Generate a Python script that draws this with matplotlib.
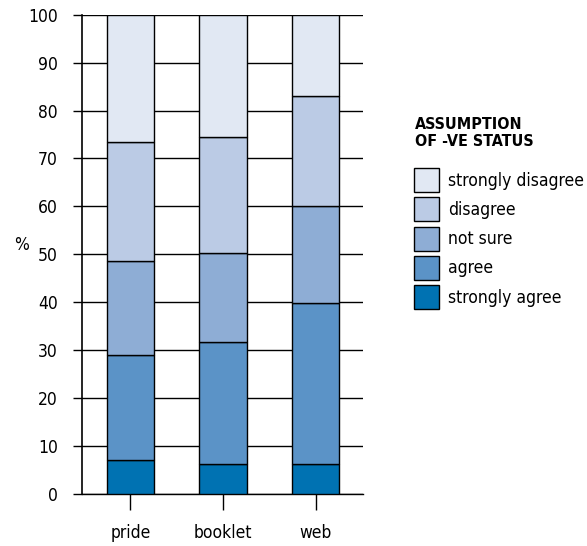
import numpy as np
import matplotlib
matplotlib.use('Agg')
import matplotlib.pyplot as plt

plt.rcParams['font.family'] = ['DejaVu Sans']
plt.rcParams['font.stretch'] = 'condensed'

# categories and stacked percentages (bottom to top)
categories = ['pride', 'booklet', 'web']
levels = ['strongly agree', 'agree', 'not sure', 'disagree', 'strongly disagree']
strongly_agree = [7.0, 6.2, 6.2]
agree = [22.1, 25.6, 33.6]
not_sure = [19.5, 18.5, 20.3]
disagree = [24.8, 24.1, 23.0]
strongly_disagree = [26.6, 25.6, 16.9]
series = [strongly_agree, agree, not_sure, disagree, strongly_disagree]
colors = ['#0072b2', '#5b93c7', '#8eadd5', '#bbcbe5', '#e1e8f3']

fig = plt.figure(figsize=(5.87, 5.46), dpi=100)
ax = fig.add_axes([0.1397, 0.0952, 0.4783, 0.878])

x = np.arange(len(categories))
bottom = np.zeros(len(categories))
handles = []
for vals, col, lab in zip(series, colors, levels):
    b = ax.bar(x, vals, 0.51, bottom=bottom, color=col, edgecolor='black',
               linewidth=1, label=lab, zorder=3)
    handles.append(b)
    bottom += np.array(vals)

ax.set_ylim(0, 100)
ax.set_xlim(-0.524, 2.51)
ax.set_yticks(range(0, 101, 10))
ax.set_xticks(x)
ax.set_xticklabels(categories)
ax.yaxis.grid(True, color='black', linewidth=1, zorder=0)
ax.set_axisbelow(True)
for s in ['top', 'right']:
    ax.spines[s].set_visible(False)
ax.spines['left'].set_linewidth(1.2)
ax.spines['bottom'].set_linewidth(1)
ax.tick_params(axis='y', length=6.5, width=1, labelsize=12.5, pad=11)
ax.tick_params(axis='x', length=11.5, width=1, labelsize=12.5, pad=10)
ax.set_ylabel('%', rotation=0, fontsize=12.5)
ax.yaxis.set_label_coords(-0.215, 0.5)

# legend title as separate text so the gap matches
fig.text(0.707, 0.786, 'ASSUMPTION\nOF -VE STATUS', ha='left', va='top',
         fontsize=11.5, fontweight='bold', linespacing=1.2)
leg = fig.legend(handles[::-1], levels[::-1], loc='upper left',
                 bbox_to_anchor=(0.705, 0.692), frameon=False,
                 fontsize=12.5, handlelength=1.45, handleheight=1.75,
                 handletextpad=0.5, labelspacing=0.3, borderpad=0,
                 borderaxespad=0)

fig.savefig('out.png', dpi=100)
